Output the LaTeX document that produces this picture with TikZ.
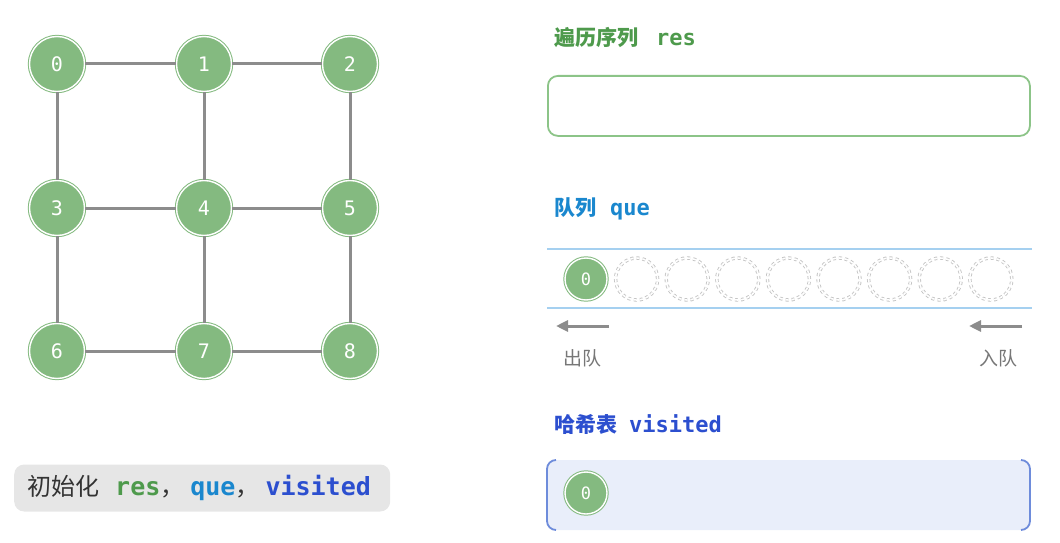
\documentclass[tikz,border=0pt]{standalone}
\usepackage{fontspec}
\setmainfont{Noto Sans CJK SC}
\setmonofont{DejaVu Sans Mono}
\newfontfamily\cjk{Noto Sans CJK SC}
\usetikzlibrary{arrows.meta}
\definecolor{vgreen}{HTML}{84BA80}
\definecolor{vgreenline}{HTML}{8CC488}
\definecolor{resgreen}{HTML}{4E9A4C}
\definecolor{queblue}{HTML}{1A87CE}
\definecolor{quelight}{HTML}{A5D0F0}
\definecolor{visblue}{HTML}{2C4FCF}
\definecolor{visline}{HTML}{6E8CDB}
\definecolor{visfill}{HTML}{E9EEFA}
\definecolor{edgegray}{HTML}{8C8C8C}
\definecolor{slotgray}{HTML}{C4C4C4}
\definecolor{txtgray}{HTML}{777777}
\definecolor{capfill}{HTML}{E6E6E6}

\begin{document}
\begin{tikzpicture}[x=1pt, y=-1pt,
        every node/.style={inner sep=0pt},
        v/.style={
          circle, minimum size=55pt,
          fill=vgreen, draw=vgreen, line width=1pt,
          double=white, double distance=1.4pt,
          text=white, font=\ttfamily\fontsize{20}{20}\selectfont,
        },
        vs/.style={v, minimum size=42pt, font=\ttfamily\fontsize{17}{17}\selectfont},
        slot/.style={
          circle, minimum size=42pt,
          draw=slotgray, line width=0.9pt, dashed,
          double=white, double distance=1.6pt,
        },
        edge/.style={draw=edgegray, line width=3pt},
        ttl/.style={anchor=west, font=\bfseries\fontsize{21}{21}\selectfont},
        mv/.style={-{Triangle[length=12pt, width=11pt]}, draw=edgegray, line width=3pt},
        lbl/.style={text=txtgray, font=\fontsize{19}{19}\selectfont},
      ]
      \useasboundingbox (0,0) rectangle (1060,543);

      % graph
      \node[v] (v0) at (57, 64)  {0};
      \node[v] (v1) at (204,64)  {1};
      \node[v] (v2) at (350,64)  {2};
      \node[v] (v3) at (57, 208) {3};
      \node[v] (v4) at (204,208) {4};
      \node[v] (v5) at (350,208) {5};
      \node[v] (v6) at (57, 351) {6};
      \node[v] (v7) at (204,351) {7};
      \node[v] (v8) at (350,351) {8};

      \draw[edge] (v0) -- (v1);
      \draw[edge] (v1) -- (v2);
      \draw[edge] (v3) -- (v4);
      \draw[edge] (v4) -- (v5);
      \draw[edge] (v6) -- (v7);
      \draw[edge] (v7) -- (v8);
      \draw[edge] (v0) -- (v3);
      \draw[edge] (v3) -- (v6);
      \draw[edge] (v1) -- (v4);
      \draw[edge] (v4) -- (v7);
      \draw[edge] (v2) -- (v5);
      \draw[edge] (v5) -- (v8);

      % caption
      \node[fill=capfill, rounded corners=10pt, minimum width=376pt, minimum height=47pt,
            anchor=west] (cap) at (14,488) {};
      \node[anchor=west, font=\fontsize{24}{24}\selectfont, text=black!80] (captxt) at (27,488)
        {初始化\hspace{16pt}{\ttfamily\bfseries\fontsize{25}{25}\selectfont\color{resgreen}res}，\hspace{6pt}{\ttfamily\bfseries\fontsize{25}{25}\selectfont\color{queblue}que}，\hspace{6pt}{\ttfamily\bfseries\fontsize{25}{25}\selectfont\color{visblue}visited}};

      % res
      \node[ttl, text=resgreen] (restitle) at (554,38) {遍历序列\hspace{18pt}{\ttfamily\fontsize{22}{22}\selectfont res}};
      \node[draw=vgreenline, line width=1.8pt, rounded corners=10pt,
            minimum width=482pt, minimum height=60pt, anchor=north west] (resbox) at (547,75) {};

      % que
      \node[ttl, text=queblue] (quetitle) at (554,209) {队列\hspace{14pt}{\ttfamily\fontsize{22}{22}\selectfont que}};
      \coordinate (qtl) at (547,249);
      \coordinate (qtr) at (1032,249);
      \coordinate (qbl) at (547,308);
      \coordinate (qbr) at (1032,308);
      \draw[quelight, line width=1.4pt] (qtl) -- (qtr);
      \draw[quelight, line width=1.4pt] (qbl) -- (qbr);
      \node[vs] (q0) at (586,279) {0};
      \foreach \i in {1,...,8}
        \node[slot] (q\i) at ({586+50.6*\i},279) {};

      \coordinate (outa) at (609,326);
      \coordinate (outb) at (556,326);
      \coordinate (ina)  at (1022,326);
      \coordinate (inb)  at (969,326);
      \draw[mv] (outa) -- (outb);
      \draw[mv] (ina) -- (inb);
      \node[lbl] (deq) at (582,358) {出队};
      \node[lbl] (enq) at (998,358) {入队};

      % visited
      \node[ttl, text=visblue] (vistitle) at (554,424) {哈希表\hspace{12pt}{\ttfamily\fontsize{22}{22}\selectfont visited}};
      \fill[visfill, rounded corners=9pt] (547,460) rectangle (1030,530);
      \draw[visline, line width=1.8pt, rounded corners=9pt] (556,460) -- (547,460) -- (547,530) -- (556,530);
      \draw[visline, line width=1.8pt, rounded corners=9pt] (1021,460) -- (1030,460) -- (1030,530) -- (1021,530);
      \node[vs] (h0) at (586,493) {0};
    \end{tikzpicture}
\end{document}
